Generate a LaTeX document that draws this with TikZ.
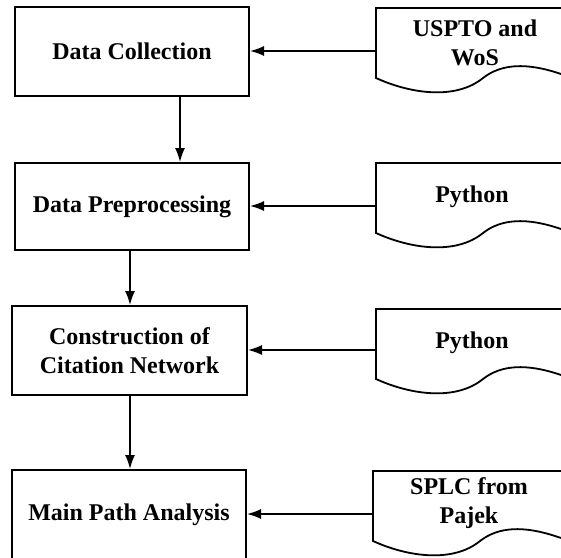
\documentclass[tikz,border=0pt]{standalone}
\usepackage{fontspec}
\setmainfont{Liberation Serif}
\usetikzlibrary{arrows.meta}

\tikzset{
  stepbox/.style={draw=black, line width=2pt, fill=white, inner sep=0pt,
    align=center, font=\fontsize{24}{29}\selectfont\bfseries},
  doclabel/.style={inner sep=0pt, align=center, font=\fontsize{24}{29}\selectfont\bfseries},
  docline/.style={draw=black, line width=1.8pt},
  arr/.style={draw=black, line width=1.6pt, -{Latex[length=14pt,width=10pt]}}
}

% wavy-bottomed document outline, top-left corner at (#1,#2)
\newcommand\docoutline[2]{%
  \begin{scope}[shift={(#1,#2)}]
    \draw[docline] (210,0) -- (0,0) -- (0,70)
      .. controls (35,86) and (80,92) .. (107,70)
      .. controls (125,56) and (150,54) .. (185,66)
      .. controls (195,69) and (202,72) .. (212,77);
  \end{scope}}

\begin{document}
\begin{tikzpicture}[x=1pt, y=-1pt]
  \useasboundingbox (0,0) rectangle (561,557);
  \clip (0,0) rectangle (561,557);

  % process steps
  \node[stepbox, minimum width=234pt, minimum height=89pt] (b1) at (132,51.5) {Data Collection};
  \node[stepbox, minimum width=234pt, minimum height=87pt] (b2) at (132,206.5) {Data Preprocessing};
  \node[stepbox, minimum width=235pt, minimum height=89pt] (b3) at (129.5,350.5) {Construction of\\Citation Network};
  \node[stepbox, minimum width=234pt, minimum height=89pt] (b4) at (129,514.5) {Main Path Analysis};

  % input documents
  \docoutline{376}{8}
  \docoutline{376}{163}
  \docoutline{376}{309}
  \docoutline{373}{471}

  \node[doclabel] (d1) at (475,42.5) {USPTO and\\WoS};
  \node[doclabel] (d2) at (472,197) {Python};
  \node[doclabel] (d3) at (472,343) {Python};
  \node[doclabel] (d4) at (469,503) {SPLC from\\Pajek};

  % attachment points on the documents' left edges
  \coordinate (c1) at (376,51);
  \coordinate (c2) at (376,206);
  \coordinate (c3) at (376,350);
  \coordinate (c4) at (373,514);

  % flow between the steps
  \draw[arr] ([xshift=48pt]b1.south) -- ([xshift=48pt]b2.north);
  \draw[arr] ([xshift=-2pt]b2.south) -- ([xshift=-2pt]b2.south |- b3.north);
  \draw[arr] ([xshift=0.5pt]b3.south) -- ([xshift=0.5pt]b3.south |- b4.north);

  % inputs feeding each step
  \draw[arr] (c1) -- (c1 -| b1.east);
  \draw[arr] (c2) -- (c2 -| b2.east);
  \draw[arr] (c3) -- (c3 -| b3.east);
  \draw[arr] (c4) -- (c4 -| b4.east);
\end{tikzpicture}
\end{document}
